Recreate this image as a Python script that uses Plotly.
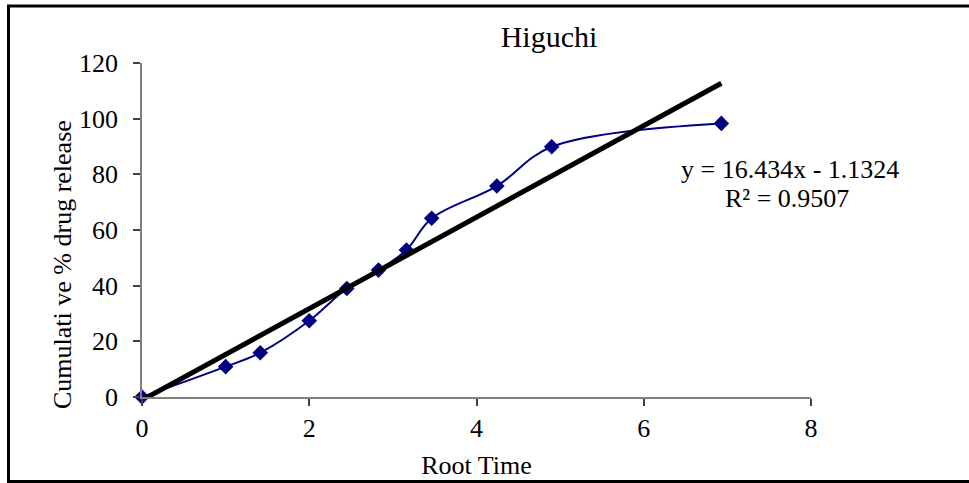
import plotly.graph_objects as go

# Data
root_time = [0, 1.0, 1.414, 2.0, 2.449, 2.828, 3.162, 3.464, 4.243, 4.899, 6.928]
cum_release = [0, 10.9, 15.9, 27.4, 39.0, 45.6, 52.8, 64.2, 75.8, 89.9, 98.3]
slope = 16.434
intercept = -1.1324
r_squared = 0.9507
x_ticks = [0, 2, 4, 6, 8]
y_ticks = [0, 20, 40, 60, 80, 100, 120]

trend_x = [min(root_time), max(root_time)]
trend_y = [slope * v + intercept for v in trend_x]

FONT = "Liberation Serif, Times New Roman, serif"

fig = go.Figure()
fig.add_trace(go.Scatter(
    x=root_time, y=cum_release, mode="lines+markers",
    line=dict(color="#000080", width=2, shape="spline", smoothing=1.0),
    marker=dict(symbol="diamond", size=12, color="#000080"),
    cliponaxis=False, showlegend=False, hoverinfo="skip",
))
fig.add_trace(go.Scatter(
    x=trend_x, y=trend_y, mode="lines",
    line=dict(color="black", width=5),
    cliponaxis=False, showlegend=False, hoverinfo="skip",
))

L, R, T, B = 142, 158, 63, 86
W, H = 969, 483
pw, ph = W - L - R, H - T - B


def px(x):
    return (x - L) / pw


def py(y):
    return (H - B - y) / ph


shapes = [
    dict(type="line", xref="paper", yref="paper", x0=px(7), x1=px(969), y0=py(6), y1=py(6),
         line=dict(color="black", width=3)),
    dict(type="line", xref="paper", yref="paper", x0=px(8.5), x1=px(8.5), y0=py(5), y1=py(482),
         line=dict(color="black", width=3)),
    dict(type="line", xref="paper", yref="paper", x0=px(7), x1=px(969), y0=py(481.5), y1=py(481.5),
         line=dict(color="black", width=3)),
]

fig.update_layout(
    width=W, height=H,
    margin=dict(l=L, r=R, t=T, b=B),
    paper_bgcolor="white", plot_bgcolor="white",
    font=dict(family=FONT, size=26, color="black"),
    title=dict(text="Higuchi", xref="container", x=549 / W, xanchor="center",
               yref="container", y=1 - 36 / H, yanchor="middle",
               font=dict(family=FONT, size=30, color="black")),
    xaxis=dict(range=[0, 8], tickvals=x_ticks, showgrid=False, zeroline=False,
               showline=True, linecolor="#808080", linewidth=1.5,
               ticks="outside", ticklen=7, tickcolor="#404040", tickwidth=1.5,
               tickfont=dict(family=FONT, size=26), ticklabelstandoff=0, automargin=False,
               title=dict(text="Root Time", font=dict(family=FONT, size=26), standoff=14)),
    yaxis=dict(range=[0, 120], tickvals=y_ticks, showgrid=False, zeroline=False,
               showline=True, linecolor="#808080", linewidth=1.5,
               ticks="outside", ticklen=7, tickcolor="#404040", tickwidth=1.5,
               tickfont=dict(family=FONT, size=26), ticklabelstandoff=10, automargin=False),
    shapes=shapes,
    annotations=[
        dict(text="Cumulati ve % drug release", textangle=-90,
             xref="paper", yref="paper", x=px(62), y=py(265), xanchor="center", yanchor="middle",
             showarrow=False, font=dict(family=FONT, size=26, color="black")),
        dict(text=f"y = {slope}x - {abs(intercept)}",
             xref="paper", yref="paper", x=px(790), y=py(169), xanchor="center", yanchor="middle",
             showarrow=False, font=dict(family=FONT, size=26, color="black")),
        dict(text=f"R² = {r_squared}",
             xref="paper", yref="paper", x=px(787), y=py(198), xanchor="center", yanchor="middle",
             showarrow=False, font=dict(family=FONT, size=26, color="black")),
    ],
)

fig.write_html("out.html", config={"displayModeBar": False},
               post_script="document.body.style.margin='0px';document.body.style.overflow='hidden';")
